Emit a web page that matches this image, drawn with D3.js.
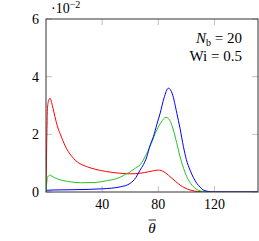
<!DOCTYPE html>
<html>
<head>
<meta charset="utf-8">
<script src="https://cdn.jsdelivr.net/npm/d3@7"></script>
<style>
  html, body { margin: 0; padding: 0; background: #fff; }
</style>
</head>
<body>
<div id="chart"></div>
<script>
// values are in units of 10^-2
const redTheta = [0, 0.3, 0.7, 1, 1.5, 2, 2.9, 4, 5, 6.4, 8, 10, 12, 14.7, 17, 19.5, 23, 26, 29, 35, 43, 52.7, 60, 67, 73, 80, 84, 88.4, 92, 95.5, 99, 102.6, 106, 110, 115, 120, 151];
const redValues = [0, 1.0, 2.2, 2.84, 3.1, 3.2, 3.25, 3.1, 2.9, 2.61, 2.3, 2.03, 1.78, 1.50, 1.32, 1.17, 1.02, 0.94, 0.88, 0.79, 0.71, 0.65, 0.63, 0.65, 0.70, 0.76, 0.70, 0.53, 0.38, 0.24, 0.14, 0.07, 0.03, 0.01, 0, 0, 0];

const greenTheta = [0, 0.5, 1, 2, 2.9, 4, 6, 9, 12.8, 18, 24.7, 35, 43, 50, 52.7, 56, 60, 64, 67, 69.3, 74, 78.9, 82, 85.5, 88, 90.7, 93, 95.5, 98, 100.3, 103, 105, 107, 109.8, 113, 118, 151];
const greenValues = [0, 0.3, 0.5, 0.57, 0.59, 0.56, 0.5, 0.44, 0.39, 0.35, 0.32, 0.33, 0.39, 0.46, 0.51, 0.6, 0.70, 0.84, 0.94, 1.11, 1.57, 2.15, 2.42, 2.59, 2.5, 2.15, 1.72, 1.22, 0.82, 0.53, 0.3, 0.18, 0.1, 0.04, 0.01, 0, 0];

const blueTheta = [0, 1, 5, 20, 40, 53, 60, 64, 67, 69.4, 71.8, 74, 76.5, 79, 81.3, 84, 87.2, 90, 93.2, 95.5, 97.9, 100, 102.6, 105, 107.4, 109.8, 112, 115.7, 120, 151];
const blueValues = [0, 0.06, 0.07, 0.08, 0.11, 0.18, 0.3, 0.5, 0.76, 0.95, 1.22, 1.6, 1.92, 2.35, 2.73, 3.25, 3.6, 3.4, 2.73, 2.2, 1.57, 1.12, 0.76, 0.5, 0.3, 0.17, 0.07, 0.02, 0, 0];

const xTicks = [40, 80, 120];
const yTicks = [0, 2, 4, 6];

const series = [
  { theta: redTheta, values: redValues, color: '#ff0000' },
  { theta: greenTheta, values: greenValues, color: '#22c422' },
  { theta: blueTheta, values: blueValues, color: '#0000ff' }
];

const width = 259, height = 241;
const mLeft = 46, mRight = 258, mTop = 19, mBottom = 192;
const serif = 'Liberation Serif';

const svg = d3.select('#chart').append('svg')
  .attr('width', width)
  .attr('height', height);

const x = d3.scaleLinear().domain([0, 151]).range([mLeft, mRight]);
const y = d3.scaleLinear().domain([0, 6]).range([mBottom, mTop]);

svg.append('clipPath').attr('id', 'clip')
  .append('rect')
  .attr('x', mLeft).attr('y', mTop)
  .attr('width', mRight - mLeft).attr('height', mBottom - mTop);

// inner ticks on all four sides
const tickLen = 6;
const ticks = svg.append('g').attr('stroke', '#b0b0b0').attr('stroke-width', 0.8);
xTicks.forEach(t => {
  ticks.append('line').attr('x1', x(t)).attr('x2', x(t)).attr('y1', mBottom).attr('y2', mBottom - tickLen);
  ticks.append('line').attr('x1', x(t)).attr('x2', x(t)).attr('y1', mTop).attr('y2', mTop + tickLen);
});
yTicks.forEach(t => {
  ticks.append('line').attr('y1', y(t)).attr('y2', y(t)).attr('x1', mLeft).attr('x2', mLeft + tickLen);
  ticks.append('line').attr('y1', y(t)).attr('y2', y(t)).attr('x1', mRight).attr('x2', mRight - tickLen);
});

// curves
const line = d3.line()
  .x(d => x(d[0]))
  .y(d => y(d[1]))
  .curve(d3.curveMonotoneX);

const plot = svg.append('g').attr('clip-path', 'url(#clip)');
series.forEach(s => {
  plot.append('path')
    .datum(s.theta.map((t, i) => [t, s.values[i]]))
    .attr('fill', 'none')
    .attr('stroke', s.color)
    .attr('stroke-width', 1)
    .attr('d', line);
});

// frame
svg.append('rect')
  .attr('x', mLeft).attr('y', mTop)
  .attr('width', mRight - mLeft).attr('height', mBottom - mTop)
  .attr('fill', 'none')
  .attr('stroke', '#333')
  .attr('stroke-width', 1);

// tick labels
svg.append('g').selectAll('text').data(xTicks).enter().append('text')
  .attr('x', d => x(d))
  .attr('y', mBottom + 17)
  .attr('text-anchor', 'middle')
  .style('font-family', serif)
  .style('font-size', '14px')
  .text(d => d);

svg.append('g').selectAll('text').data(yTicks).enter().append('text')
  .attr('x', mLeft - 7)
  .attr('y', d => y(d) + 5)
  .attr('text-anchor', 'end')
  .style('font-family', serif)
  .style('font-size', '14px')
  .text(d => d);

// scale marker
const sc = svg.append('text').attr('x', 51).attr('y', 13)
  .style('font-family', serif).style('font-size', '14px');
sc.append('tspan').text('\u00b710');
sc.append('tspan').attr('dy', -5).style('font-size', '10px').text('\u22122');

// axis label
svg.append('text').attr('x', (mLeft + mRight) / 2).attr('y', 233)
  .attr('text-anchor', 'middle')
  .style('font-family', serif).style('font-size', '15px').style('font-style', 'italic')
  .text('\u03b8');
svg.append('line')
  .attr('x1', (mLeft + mRight) / 2 - 3.5).attr('x2', (mLeft + mRight) / 2 + 4)
  .attr('y1', 220).attr('y2', 220)
  .attr('stroke', '#000').attr('stroke-width', 0.8);

// annotation
const a1 = svg.append('text').attr('x', 242).attr('y', 43).attr('text-anchor', 'end')
  .style('font-family', serif).style('font-size', '15px');
a1.append('tspan').style('font-style', 'italic').text('N');
a1.append('tspan').attr('dy', 3).style('font-size', '10px').text('b');
a1.append('tspan').attr('dy', -3).text(' = 20');

svg.append('text').attr('x', 242).attr('y', 61).attr('text-anchor', 'end')
  .style('font-family', serif).style('font-size', '15px')
  .text('Wi = 0.5');
</script>
</body>
</html>
